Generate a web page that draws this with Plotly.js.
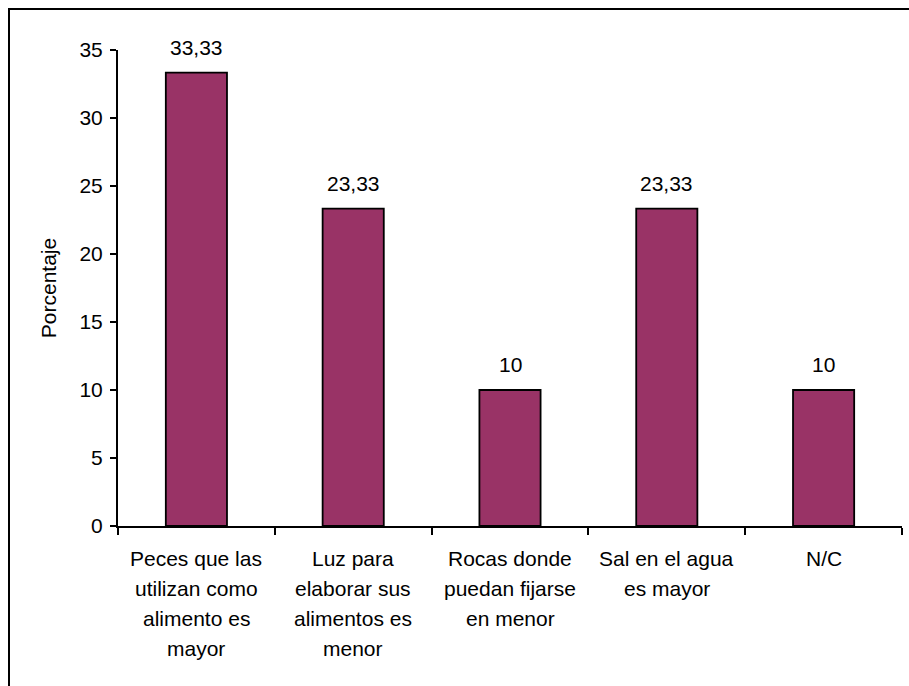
<!DOCTYPE html>
<html>
<head>
<meta charset="utf-8">
<script src="https://cdn.plot.ly/plotly-3.0.1.min.js"></script>
<style>
html,body{margin:0;padding:0;overflow:hidden;background:#fff;}
#wrap{position:relative;width:909px;height:686px;overflow:hidden;}
#chart{position:absolute;left:0;top:0;width:909px;height:686px;}
#frame{position:absolute;left:8px;top:8px;width:920px;height:700px;border:2px solid #000;box-sizing:border-box;pointer-events:none;}
</style>
</head>
<body>
<div id="wrap"><div id="chart"></div><div id="frame"></div></div>
<script>
var categories = ["Peces que las utilizan como alimento es mayor","Luz para elaborar sus alimentos es menor","Rocas donde puedan fijarse en menor","Sal en el agua es mayor","N/C"];
var labelLines = [
  ["Peces que las","utilizan como","alimento es","mayor"],
  ["Luz para","elaborar sus","alimentos es","menor"],
  ["Rocas donde","puedan fijarse","en menor"],
  ["Sal en el agua","es mayor"],
  ["N/C"]
];
var values = [33.33, 23.33, 10, 23.33, 10];
var valueLabels = ["33,33","23,33","10","23,33","10"];
var yTicks = [0,5,10,15,20,25,30,35];

var FONT = "Liberation Sans, Arial, sans-serif";
var FS = 21;
var annotations = [];
categories.forEach(function(c, i){
  annotations.push({x:c, y:values[i], xref:'x', yref:'y', text:valueLabels[i], showarrow:false,
    yanchor:'bottom', yshift:12, font:{family:FONT,size:FS,color:'#000'}});
  labelLines[i].forEach(function(line, j){
    annotations.push({x:c, y:0, xref:'x', yref:'paper', text:line, showarrow:false,
      yanchor:'middle', yshift:-(32+30*j), font:{family:FONT,size:FS,color:'#000'}});
  });
});

var trace = {
  type:'bar', x:categories, y:values, width:0.39,
  marker:{color:'#993366', line:{color:'#000', width:1.8}},
  hoverinfo:'none'
};

var layout = {
  width:909, height:686,
  margin:{l:118, r:7, t:50, b:160},
  paper_bgcolor:'#fff', plot_bgcolor:'#fff',
  separators:',.',
  showlegend:false,
  font:{family:FONT, size:FS, color:'#000'},
  xaxis:{type:'category', range:[-0.5,4.5], showticklabels:false, tickson:'boundaries',
    ticks:'outside', ticklen:7, tickwidth:2, tickcolor:'#000',
    showline:true, linecolor:'#000', linewidth:2, showgrid:false, zeroline:false, fixedrange:true},
  yaxis:{range:[0,35], tickvals:yTicks, ticks:'outside', ticklen:6, tickwidth:2, tickcolor:'#000',
    showline:true, linecolor:'#000', linewidth:2, showgrid:false, zeroline:false,
    tickfont:{family:FONT,size:FS,color:'#000'}, ticklabelstandoff:3,
    title:{text:'Porcentaje', font:{family:FONT,size:FS,color:'#000'}, standoff:17}, fixedrange:true},
  annotations:annotations
};

Plotly.newPlot('chart', [trace], layout, {displayModeBar:false, staticPlot:true});
</script>
</body>
</html>
